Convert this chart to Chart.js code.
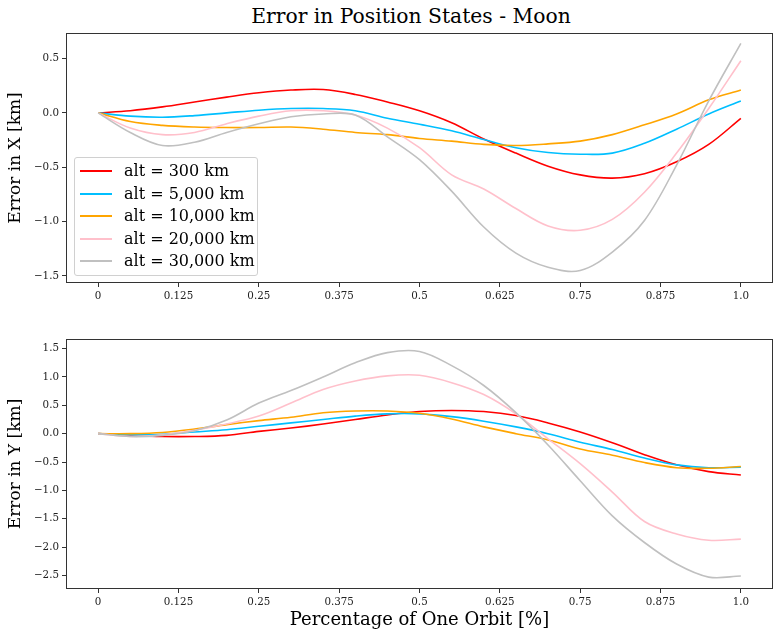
<!DOCTYPE html>
<html><head><meta charset="utf-8">
<script src="https://cdn.jsdelivr.net/npm/chart.js@4.4.1/dist/chart.umd.min.js"></script>
<style>
html,body{margin:0;padding:0;background:#fff;width:780px;height:638px;overflow:hidden;font-family:'DejaVu Serif',serif;}
#title{position:absolute;left:50px;width:722px;top:3px;text-align:center;font-size:20.3px;line-height:26px;color:#000;}
#w1{position:absolute;left:0;top:0;width:780px;height:310px;}
#w2{position:absolute;left:0;top:320px;width:780px;height:318px;}
#legend{position:absolute;left:74px;top:157px;width:182px;height:117px;border:1px solid #d0d0d0;border-radius:3px;background:rgba(255,255,255,0.8);}
.row{position:absolute;left:0;height:22px;width:180px;}
.sw{position:absolute;left:5px;top:10px;width:32px;height:0;border-top:2px solid #000;}
.lt{position:absolute;left:49px;top:0;font-size:16px;line-height:22px;color:#000;white-space:nowrap;}
</style></head>
<body>
<div id="title">Error in Position States - Moon</div>
<div id="w1"><canvas id="c1" width="780" height="310"></canvas></div>
<div id="w2"><canvas id="c2" width="780" height="318"></canvas></div>
<div id="legend"></div>
<script>
const tVals = [0,0.05,0.1,0.15,0.2,0.25,0.3,0.35,0.4,0.45,0.5,0.55,0.6,0.65,0.7,0.75,0.8,0.85,0.9,0.95,1.0];
const seriesLabels = ['alt = 300 km','alt = 5,000 km','alt = 10,000 km','alt = 20,000 km','alt = 30,000 km'];
const seriesColors = ['#ff0000','#00bfff','#ffa500','#ffc0cb','#c0c0c0'];

// Error in X [km]
const x300   = [0,0.02,0.055,0.10,0.145,0.185,0.21,0.215,0.17,0.10,0.02,-0.09,-0.24,-0.37,-0.49,-0.57,-0.60,-0.56,-0.45,-0.29,-0.05];
const x5000  = [0,-0.03,-0.04,-0.025,0.0,0.025,0.04,0.04,0.02,-0.05,-0.105,-0.165,-0.245,-0.32,-0.365,-0.38,-0.37,-0.28,-0.15,-0.01,0.11];
const x10000 = [0,-0.08,-0.115,-0.13,-0.135,-0.135,-0.13,-0.15,-0.18,-0.20,-0.235,-0.26,-0.29,-0.30,-0.285,-0.26,-0.20,-0.11,-0.01,0.12,0.21];
const x20000 = [0,-0.14,-0.20,-0.18,-0.10,-0.03,0.02,0.02,-0.02,-0.14,-0.32,-0.57,-0.70,-0.88,-1.04,-1.08,-0.98,-0.73,-0.37,0.04,0.48];
const x30000 = [0,-0.18,-0.30,-0.27,-0.18,-0.10,-0.035,-0.01,-0.02,-0.22,-0.43,-0.72,-1.05,-1.29,-1.42,-1.45,-1.28,-0.99,-0.48,0.11,0.64];

// Error in Y [km]
const y300   = [0,-0.03,-0.05,-0.05,-0.03,0.04,0.10,0.17,0.25,0.33,0.39,0.41,0.39,0.32,0.19,0.03,-0.16,-0.37,-0.55,-0.67,-0.73];
const y5000  = [0,-0.02,-0.01,0.03,0.07,0.13,0.19,0.25,0.31,0.35,0.35,0.30,0.22,0.12,0.0,-0.15,-0.28,-0.43,-0.55,-0.60,-0.59];
const y10000 = [0,0.0,0.02,0.08,0.16,0.23,0.29,0.37,0.40,0.40,0.36,0.26,0.12,0.0,-0.11,-0.27,-0.38,-0.51,-0.60,-0.61,-0.58];
const y20000 = [0,-0.05,-0.02,0.06,0.17,0.31,0.54,0.78,0.93,1.02,1.03,0.90,0.69,0.35,-0.09,-0.53,-1.03,-1.55,-1.77,-1.88,-1.86];
const y30000 = [0,-0.05,-0.03,0.05,0.24,0.54,0.76,1.00,1.25,1.43,1.45,1.20,0.85,0.37,-0.20,-0.83,-1.45,-1.92,-2.30,-2.53,-2.51];

const xTickVals = [0,0.125,0.25,0.375,0.5,0.625,0.75,0.875,1.0];
const xTickLabels = ['0','0.125','0.25','0.375','0.5','0.625','0.75','0.875','1.0'];
const yTopTickVals = [-1.5,-1.0,-0.5,0.0,0.5];
const yTopTickLabels = ['\u22121.5','\u22121.0','\u22120.5','0.0','0.5'];
const yBotTickVals = [-2.5,-2.0,-1.5,-1.0,-0.5,0.0,0.5,1.0,1.5];
const yBotTickLabels = ['\u22122.5','\u22122.0','\u22121.5','\u22121.0','\u22120.5','0.0','0.5','1.0','1.5'];

const FONT = "'DejaVu Serif', serif";
const AX = '#333333';

const boxPlugin = {
  id: 'box',
  afterDatasetsDraw(chart) {
    const {ctx, chartArea: a} = chart;
    ctx.save();
    ctx.strokeStyle = AX;
    ctx.lineWidth = 1;
    ctx.strokeRect(Math.round(a.left) + 0.5, Math.round(a.top) + 0.5, Math.round(a.right - a.left) - 1, Math.round(a.bottom - a.top) - 1);
    ctx.restore();
  }
};

function makeDatasets(arrs) {
  return arrs.map((arr, i) => ({
    label: seriesLabels[i],
    data: tVals.map((t, k) => ({x: t, y: arr[k]})),
    borderColor: seriesColors[i],
    backgroundColor: seriesColors[i],
    borderWidth: 1.6,
    pointRadius: 0,
    fill: false,
    tension: 0.35,
    order: arrs.length - i
  }));
}

function makeChart(canvasId, arrs, yMin, yMax, yVals, yLabels, yTitle, xTitle, padTop, xAxisH) {
  const xScale = {
    type: 'linear', min: -0.05, max: 1.05,
    border: {display: false},
    grid: {display: true, drawOnChartArea: false, drawTicks: true, tickLength: 4, color: AX, tickColor: AX},
    afterBuildTicks: s => { s.ticks = xTickVals.map(v => ({value: v})); },
    afterFit: s => { s.height = xAxisH; },
    ticks: {
      autoSkip: false, maxRotation: 0, padding: 3, color: '#222',
      font: {family: FONT, size: 10.3},
      callback: v => { const i = xTickVals.indexOf(v); return i >= 0 ? xTickLabels[i] : ''; }
    },
    title: xTitle ? {display: true, text: xTitle, color: '#000', font: {family: FONT, size: 18}, padding: {top: 7, bottom: 7}} : {display: false}
  };
  const yScale = {
    type: 'linear', min: yMin, max: yMax,
    border: {display: false},
    grid: {display: true, drawOnChartArea: false, drawTicks: true, tickLength: 4, color: AX, tickColor: AX},
    afterBuildTicks: s => { s.ticks = yVals.map(v => ({value: v})); },
    afterFit: s => { s.width = 66; },
    ticks: {
      autoSkip: false, padding: 3, color: '#222',
      font: {family: FONT, size: 10.3},
      callback: v => { const i = yVals.indexOf(v); return i >= 0 ? yLabels[i] : ''; }
    },
    title: {display: true, text: yTitle, color: '#000', font: {family: FONT, size: 17}, padding: {top: 5, bottom: 5}}
  };
  return new Chart(document.getElementById(canvasId), {
    type: 'line',
    data: {datasets: makeDatasets(arrs)},
    options: {
      responsive: false, animation: false, devicePixelRatio: 1,
      layout: {padding: {top: padTop, right: 7, left: 0, bottom: 0}},
      plugins: {legend: {display: false}, tooltip: {enabled: false}, title: {display: false}},
      scales: {x: xScale, y: yScale}
    },
    plugins: [boxPlugin]
  });
}

makeChart('c1', [x300, x5000, x10000, x20000, x30000], -1.565, 0.735, yTopTickVals, yTopTickLabels, 'Error in X [km]', null, 33, 27);
makeChart('c2', [y300, y5000, y10000, y20000, y30000], -2.74, 1.67, yBotTickVals, yBotTickLabels, 'Error in Y [km]', 'Percentage of One Orbit [%]', 19, 49);

const lg = document.getElementById('legend');
seriesLabels.forEach((lab, i) => {
  const r = document.createElement('div');
  r.className = 'row';
  r.style.top = (2 + i * 22.5) + 'px';
  r.innerHTML = '<div class="sw" style="border-top-color:' + seriesColors[i] + '"></div><div class="lt"></div>';
  r.querySelector('.lt').textContent = lab;
  lg.appendChild(r);
});
</script>
</body></html>
